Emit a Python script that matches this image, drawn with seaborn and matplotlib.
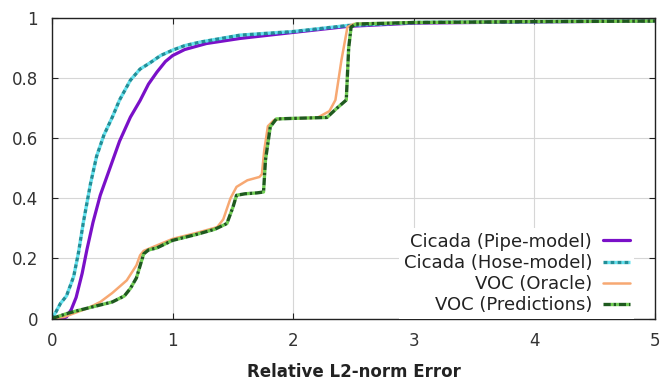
import numpy as np
import pandas as pd
import matplotlib
matplotlib.use("Agg")
import matplotlib.pyplot as plt
import seaborn as sns

# ---- data ----
pipe_x = [0, 0.08, 0.12, 0.16, 0.2, 0.25, 0.29, 0.34, 0.4, 0.48, 0.56, 0.65, 0.73, 0.8, 0.87, 0.94, 1.0, 1.1, 1.28, 1.56, 2.0, 2.45, 3.0, 4.0, 5.0]
pipe_y = [0, 0.0, 0.005, 0.03, 0.07, 0.15, 0.23, 0.32, 0.41, 0.5, 0.59, 0.67, 0.725, 0.78, 0.82, 0.855, 0.875, 0.895, 0.915, 0.932, 0.952, 0.972, 0.983, 0.987, 0.99]

hose_x = [0, 0.03, 0.07, 0.12, 0.18, 0.22, 0.26, 0.32, 0.37, 0.43, 0.5, 0.56, 0.65, 0.73, 0.81, 0.9, 1.0, 1.1, 1.23, 1.56, 2.0, 2.45, 3.0, 4.0, 5.0]
hose_y = [0, 0.02, 0.05, 0.075, 0.14, 0.22, 0.32, 0.45, 0.54, 0.61, 0.67, 0.727, 0.793, 0.83, 0.85, 0.875, 0.893, 0.908, 0.92, 0.943, 0.955, 0.975, 0.985, 0.988, 0.99]

oracle_x = [0, 0.1, 0.2, 0.3, 0.4, 0.5, 0.62, 0.7, 0.73, 0.76, 0.85, 1.0, 1.2, 1.37, 1.42, 1.48, 1.53, 1.62, 1.72, 1.74, 1.76, 1.79, 1.84, 1.9, 2.2, 2.3, 2.35, 2.4, 2.45, 2.5, 3.0, 4.0, 5.0]
oracle_y = [0, 0.005, 0.02, 0.035, 0.055, 0.085, 0.127, 0.177, 0.21, 0.225, 0.24, 0.265, 0.285, 0.304, 0.33, 0.4, 0.438, 0.46, 0.471, 0.48, 0.56, 0.64, 0.66, 0.665, 0.668, 0.69, 0.727, 0.86, 0.97, 0.98, 0.985, 0.988, 0.99]

pred_x = [0, 0.12, 0.2, 0.3, 0.4, 0.5, 0.6, 0.65, 0.7, 0.73, 0.76, 0.8, 0.87, 1.0, 1.2, 1.35, 1.45, 1.5, 1.53, 1.6, 1.7, 1.754, 1.77, 1.81, 1.86, 2.0, 2.28, 2.36, 2.44, 2.46, 2.48, 2.52, 3.0, 4.0, 5.0]
pred_y = [0, 0.016, 0.025, 0.035, 0.045, 0.055, 0.075, 0.1, 0.135, 0.175, 0.215, 0.228, 0.235, 0.26, 0.28, 0.297, 0.316, 0.37, 0.41, 0.415, 0.418, 0.421, 0.527, 0.638, 0.664, 0.666, 0.669, 0.699, 0.727, 0.9, 0.97, 0.98, 0.985, 0.988, 0.99]

labels = ["Cicada (Pipe-model)", "Cicada (Hose-model)", "VOC (Oracle)", "VOC (Predictions)"]
x_ticks = [0, 1, 2, 3, 4, 5]
y_ticks = [0, 0.2, 0.4, 0.6, 0.8, 1.0]
y_tick_labels = ["0", "0.2", "0.4", "0.6", "0.8", "1"]
x_label = "Relative L2-norm Error"

# ---- style ----
sns.set_style("ticks")
plt.rcParams["font.family"] = ["DejaVu Sans"]

fig = plt.figure(figsize=(6.61, 3.83), dpi=100)
ax = fig.add_axes([52 / 661, 1 - 318.5 / 383, 603 / 661, 300.5 / 383])

sns.lineplot(x=pipe_x, y=pipe_y, ax=ax, color="#7a10c8", linewidth=2.3,
             label=labels[0], sort=False)
sns.lineplot(x=hose_x, y=hose_y, ax=ax, color="#1f8f98", linewidth=2.4,
             linestyle=(0, (1.2, 0.9)), gapcolor="#5fe3f0",
             label=labels[1], sort=False)
sns.lineplot(x=oracle_x, y=oracle_y, ax=ax, color="#f7a872", linewidth=1.8,
             label=labels[2], sort=False)
sns.lineplot(x=pred_x, y=pred_y, ax=ax, color="#1e5a1e", linewidth=2.4,
             linestyle=(0, (2.2, 0.8, 0.8, 0.8)), gapcolor="#6fd24f",
             label=labels[3], sort=False)

ax.set_xlim(0, 5)
ax.set_ylim(0, 1)
ax.set_xticks(x_ticks)
ax.set_xticklabels([str(t) for t in x_ticks])
ax.set_yticks(y_ticks)
ax.set_yticklabels(y_tick_labels)
ax.grid(True, color="#d6d6d6", linewidth=0.8)
ax.set_axisbelow(True)
for s in ax.spines.values():
    s.set_visible(True)
    s.set_color("#222222")
    s.set_linewidth(1.0)
ax.tick_params(direction="in", length=4, width=0.8, top=True, right=True,
               labelsize=12, pad=10, colors="#222222")
ax.tick_params(axis="both", labelcolor="#333333")
ax.set_xlabel(x_label, fontsize=12, fontweight="bold", labelpad=9, color="#222222")
ax.set_ylabel("")

leg = ax.legend(loc="lower right", bbox_to_anchor=(0.966, 0.0),
                markerfirst=False, frameon=True, facecolor="white",
                edgecolor="none", framealpha=1, fancybox=False, fontsize=13,
                handlelength=1.5, handletextpad=0.6, labelspacing=0.17,
                borderpad=0.25, borderaxespad=0)
for t in leg.get_texts():
    t.set_color("#222222")

fig.savefig("out.png", dpi=100)
